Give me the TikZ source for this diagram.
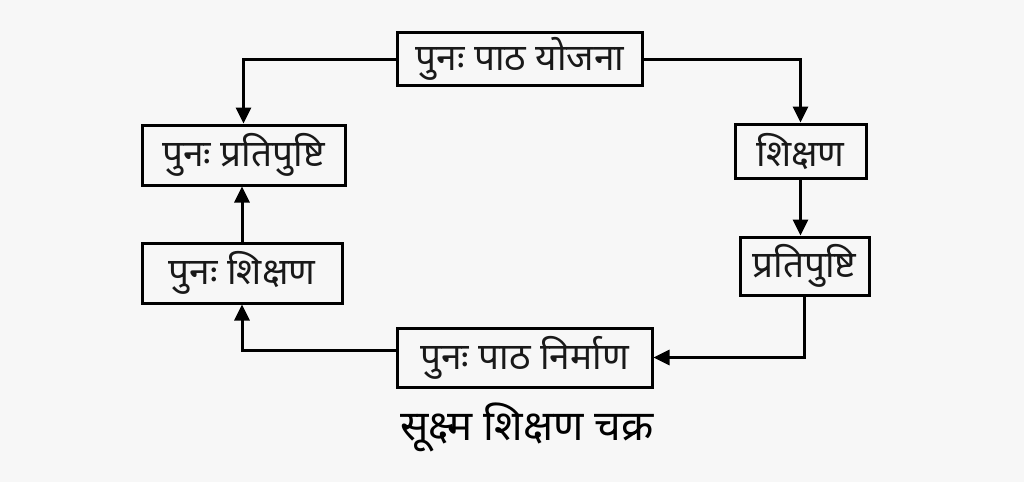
\documentclass[tikz,border=0pt]{standalone}
\usepackage{fontspec}
\newfontfamily\deva[Script=Devanagari]{Noto Sans}
\usetikzlibrary{arrows.meta}
\begin{document}
\begin{tikzpicture}[x=1pt,y=-1pt,
  box/.style={draw,line width=3pt,inner sep=0pt,font=\deva\fontsize{37}{40}\selectfont,text=black!90},
  conn/.style={line width=3pt,-{Triangle[length=16pt,width=15pt]}}]
\useasboundingbox[fill=black!3] (0,0) rectangle (1024,482);
\node[box,minimum width=245,minimum height=53] (plan) at (520,59) {पुनः पाठ योजना};
\node[box,minimum width=203,minimum height=60] (refb) at (243.5,155) {पुनः प्रतिपुष्टि};
\node[box,minimum width=131,minimum height=54] (teach) at (800.5,151) {शिक्षण};
\node[box,minimum width=129,minimum height=58] (feed) at (804.5,266) {प्रतिपुष्टि};
\node[box,minimum width=200,minimum height=60] (reteach) at (242,273) {पुनः शिक्षण};
\node[box,minimum width=255,minimum height=59] (replan) at (524.5,357.5) {पुनः पाठ निर्माण};
\node[font=\deva\bfseries\fontsize{42}{46}\selectfont] (cap) at (527,427) {सूक्ष्म शिक्षण चक्र};
\draw[conn] (plan.west) -| (refb.north);
\draw[conn] (plan.east) -| (teach.north);
\draw[conn] (teach.south) -- (teach.south |- feed.north);
\draw[conn] (feed.south) |- (replan.east);
\coordinate (rw) at ([yshift=7]replan.west);
\draw[conn] (rw) -| (reteach.south);
\draw[conn] (reteach.north) -- (reteach.north |- refb.south);
\end{tikzpicture}
\end{document}
